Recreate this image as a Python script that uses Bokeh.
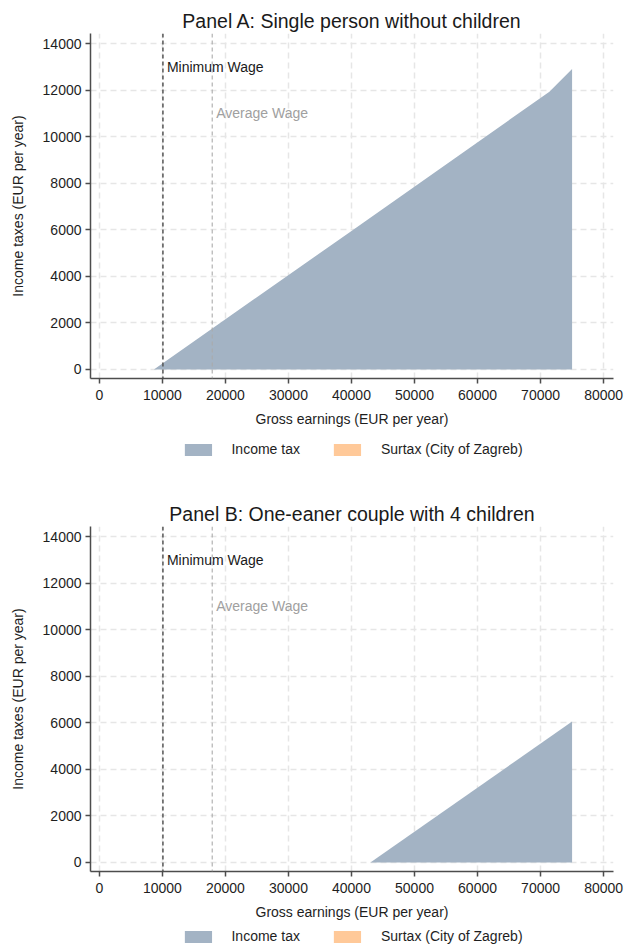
from bokeh.plotting import figure
from bokeh.models import Span, Legend, LegendItem, ColumnDataSource, FixedTicker, NumeralTickFormatter
from bokeh.layouts import column
from bokeh.embed import file_html
from bokeh.resources import INLINE
from bokeh.core.properties import value

# ---- data ----
panel_titles = ["Panel A: Single person without children",
                "Panel B: One-eaner couple with 4 children"]
earnings_a = [8650, 40000, 71400, 75000]
income_tax_a = [0, 5950, 11930, 12900]
surtax_a = [0, 0, 0, 0]
earnings_b = [43000, 75000]
income_tax_b = [0, 6050]
surtax_b = [0, 0]
minimum_wage = 10080
average_wage = 17900
x_ticks = [0, 10000, 20000, 30000, 40000, 50000, 60000, 70000, 80000]
y_ticks = [0, 2000, 4000, 6000, 8000, 10000, 12000, 14000]
series_labels = ["Income tax", "Surtax (City of Zagreb)"]
ref_labels = ["Minimum Wage", "Average Wage"]

FONT = "Liberation Sans"
TAX_COLOR = "#A3B3C4"
SUR_COLOR = "#FFC999"
TEXT = "#1e1e1e"
NAN = float("nan")


def make_panel(title, earnings, tax, surtax):
    p = figure(width=630, height=434, x_range=(-1410, 81570), y_range=(-390, 14430),
               output_backend="svg", toolbar_location=None, title=title,
               min_border_left=90, min_border_right=11, min_border_top=33,
               min_border_bottom=56)
    p.outline_line_color = None
    p.background_fill_color = "white"
    p.border_fill_color = "white"

    p.title.align = "center"
    p.title.text_font = FONT
    p.title.text_font_size = "19.5px"
    p.title.text_font_style = "normal"
    p.title.text_color = "#1a1a1a"
    p.title.standoff = 4

    for g in (p.xgrid, p.ygrid):
        g.grid_line_color = "#E6E6E6"
        g.grid_line_dash = "6 4"
        g.grid_line_width = 1.5

    p.xaxis.ticker = FixedTicker(ticks=x_ticks)
    p.yaxis.ticker = FixedTicker(ticks=y_ticks)
    for ax in (p.xaxis[0], p.yaxis[0]):
        ax.formatter = NumeralTickFormatter(format="0")
        ax.axis_line_color = "#4d4d4d"
        ax.axis_line_width = 1.5
        ax.major_tick_line_color = "#4d4d4d"
        ax.major_tick_line_width = 1.5
        ax.major_tick_out = 5
        ax.major_tick_in = 0
        ax.minor_tick_line_color = None
        ax.major_label_text_font = FONT
        ax.major_label_text_font_size = "14px"
        ax.major_label_text_color = TEXT
        ax.axis_label_text_font = FONT
        ax.axis_label_text_font_size = "14px"
        ax.axis_label_text_font_style = "normal"
        ax.axis_label_text_color = TEXT
    p.xaxis.axis_label = "Gross earnings (EUR per year)"
    p.yaxis.axis_label = "Income taxes (EUR per year)"
    p.xaxis.major_label_standoff = 6
    p.yaxis.major_label_standoff = 4
    p.xaxis.axis_label_standoff = 8
    p.yaxis.axis_label_standoff = 14

    top = [t + s for t, s in zip(tax, surtax)]
    src = ColumnDataSource(dict(x=earnings, tax=tax, top=top))
    p.varea(x="x", y1=0, y2="tax", source=src, fill_color=TAX_COLOR)
    p.varea(x="x", y1="tax", y2="top", source=src, fill_color=SUR_COLOR)

    p.add_layout(Span(location=minimum_wage, dimension="height", line_color="#555555",
                      line_width=1.5, line_dash="4 3"))
    p.add_layout(Span(location=average_wage, dimension="height", line_color="#ABABAB",
                      line_width=1.1, line_dash="4 3"))
    p.text(x=[minimum_wage], y=[12970], text=[ref_labels[0]], x_offset=4,
           text_baseline="middle", text_font=value(FONT), text_font_size="14px",
           text_color="#1a1a1a")
    p.text(x=[average_wage], y=[11000], text=[ref_labels[1]], x_offset=4,
           text_baseline="middle", text_font=value(FONT), text_font_size="14px",
           text_color="#A0A0A0")
    return p


def make_legend(height, top_gap):
    lf = figure(width=630, height=height, x_range=(0, 1), y_range=(0, 1),
                output_backend="svg", toolbar_location=None,
                x_axis_location=None, y_axis_location=None,
                min_border_left=90, min_border_right=17, min_border_top=0,
                min_border_bottom=0)
    lf.outline_line_color = None
    lf.grid.visible = False
    # legend-only renderers (single undefined row, nothing drawn in the frame)
    r1 = lf.quad(left=[NAN], right=[NAN], top=[NAN], bottom=[NAN],
                 fill_color=TAX_COLOR, line_color=None)
    r2 = lf.quad(left=[NAN], right=[NAN], top=[NAN], bottom=[NAN],
                 fill_color=SUR_COLOR, line_color=None)
    legend = Legend(items=[LegendItem(label=value(series_labels[0]), renderers=[r1], index=0),
                           LegendItem(label=value(series_labels[1]), renderers=[r2], index=0)],
                    orientation="horizontal", location="top_center",
                    border_line_color=None, background_fill_alpha=0,
                    glyph_width=34, glyph_height=15, label_standoff=17, spacing=30,
                    label_text_font=FONT, label_text_font_size="14px",
                    label_text_color=TEXT, padding=0, margin=top_gap, label_height=15)
    lf.add_layout(legend, "center")
    return lf


pa = make_panel(panel_titles[0], earnings_a, income_tax_a, surtax_a)
la = make_legend(59, 7)
pb = make_panel(panel_titles[1], earnings_b, income_tax_b, surtax_b)
lb = make_legend(19, 1)

layout = column(pa, la, pb, lb, spacing=0)
open("out.html", "w").write(file_html(layout, INLINE))
